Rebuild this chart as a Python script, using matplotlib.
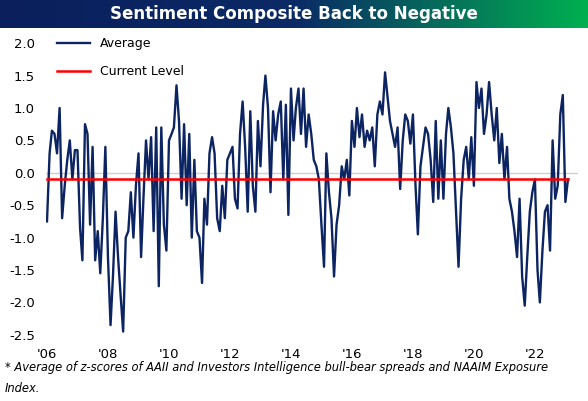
import numpy as np
import pandas as pd
import matplotlib
matplotlib.use("Agg")
import matplotlib.pyplot as plt
from matplotlib.colors import LinearSegmentedColormap

values = [
 # 2006
 -0.75, 0.3, 0.65, 0.6, 0.3, 1.0, -0.7, -0.2, 0.2, 0.5, -0.1, 0.35,
 # 2007
 0.35, -0.85, -1.35, 0.75, 0.6, -0.8, 0.4, -1.35, -0.9, -1.55, -0.7, 0.4,
 # 2008
 -1.3, -2.35, -1.6, -0.6, -1.3, -1.9, -2.45, -1.0, -0.9, -0.3, -1.0, -0.2,
 # 2009
 0.3, -1.3, -0.4, 0.5, -0.1, 0.55, -0.9, 0.7, -1.75, 0.7, -0.8, -1.2,
 # 2010
 0.5, 0.6, 0.7, 1.35, 0.8, -0.4, 0.75, -0.5, 0.6, -1.0, 0.2, -0.9,
 # 2011
 -1.0, -1.7, -0.4, -0.8, 0.3, 0.55, 0.3, -0.7, -0.9, -0.2, -0.7, 0.2,
 # 2012
 0.3, 0.4, -0.4, -0.55, 0.6, 1.1, 0.4, -0.6, 0.95, -0.2, -0.6, 0.8,
 # 2013
 0.1, 1.05, 1.5, 1.0, -0.3, 0.95, 0.5, 0.9, 1.1, -0.1, 1.05, -0.65,
 # 2014
 1.3, 0.5, 1.0, 1.3, 0.6, 1.3, 0.4, 0.9, 0.6, 0.2, 0.1, -0.1,
 # 2015
 -0.8, -1.45, 0.3, -0.3, -0.7, -1.6, -0.8, -0.5, 0.1, -0.1, 0.2, -0.35,
 # 2016
 0.8, 0.4, 1.0, 0.55, 0.9, 0.4, 0.65, 0.5, 0.7, 0.1, 0.9, 1.1,
 # 2017
 0.9, 1.55, 1.2, 0.8, 0.6, 0.4, 0.7, -0.25, 0.5, 0.9, 0.8, 0.45,
 # 2018
 0.9, -0.2, -0.95, 0.1, 0.4, 0.7, 0.6, 0.2, -0.45, 0.8, -0.4, 0.5,
 # 2019
 -0.4, 0.6, 1.0, 0.7, 0.3, -0.6, -1.45, -0.4, 0.2, 0.4, -0.1, 0.55,
 # 2020
 -0.2, 1.4, 1.0, 1.3, 0.6, 0.9, 1.4, 0.9, 0.5, 1.0, 0.15, 0.6,
 # 2021
 -0.1, 0.4, -0.4, -0.6, -0.9, -1.3, -0.4, -1.6, -2.05, -1.3, -0.6, -0.3,
 # 2022
 -0.1, -1.5, -2.0, -1.2, -0.6, -0.5, -1.2, 0.5, -0.4, -0.2, 0.9, 1.2,
 # 2023
 -0.45, -0.1,
]
dates = pd.date_range("2006-01-01", periods=len(values), freq="MS")
current_level = -0.1
tick_years = list(range(2006, 2023, 2))
tick_labels = ["'%02d" % (y % 100) for y in tick_years]
yticks = [2.0, 1.5, 1.0, 0.5, 0.0, -0.5, -1.0, -1.5, -2.0, -2.5]

fig = plt.figure(figsize=(5.88, 4.01), dpi=100)
bax = fig.add_axes([0, 1 - 28/401, 1, 28/401])
cmap = LinearSegmentedColormap.from_list("b", ["#0a1f5c", "#0b2a66", "#00b050"])
bax.imshow(np.linspace(0, 1, 256)[None, :], aspect="auto", cmap=cmap, extent=[0, 1, 0, 1])
bax.set_axis_off()
bax.text(0.5, 0.5, "Sentiment Composite Back to Negative", color="white",
         ha="center", va="center", fontsize=12, fontweight="bold")

ax = fig.add_axes([46/588, 1 - 340/401, (578-46)/588, (340-38)/401])
navy = "#0c2461"
ax.plot(dates, values, color=navy, lw=1.7, label="Average")
ax.axhline(0, color="#d0d0d0", lw=1, zorder=0)
ax.plot([dates[0], dates[-1]], [current_level, current_level], color="#ff0000", lw=1.8,
        label="Current Level")
ax.set_ylim(-2.58, 2.08)
ax.set_xlim(pd.Timestamp("2005-12-20"), pd.Timestamp("2023-06-01"))
ax.set_yticks(yticks)
ax.set_yticklabels(["%.1f" % v for v in yticks])
ax.set_xticks([pd.Timestamp(f"{y}-01-01") for y in tick_years])
ax.set_xticklabels(tick_labels)
for s in ax.spines.values():
    s.set_visible(False)
ax.tick_params(axis="y", length=0, labelsize=9.5, pad=8)
ax.tick_params(axis="x", length=0, labelsize=9.5, pad=6)
ax.legend(loc="upper left", frameon=False, fontsize=9, handlelength=2.6,
          labelspacing=1.2, bbox_to_anchor=(0.0, 1.04))

fig.text(0.008, 1 - 367/401, "* Average of z-scores of AAII and Investors Intelligence bull-bear spreads and NAAIM Exposure",
         fontsize=8.3, style="italic", va="center")
fig.text(0.008, 1 - 389/401, "Index.", fontsize=8.3, style="italic", va="center")
fig.savefig("out.png", dpi=100)
